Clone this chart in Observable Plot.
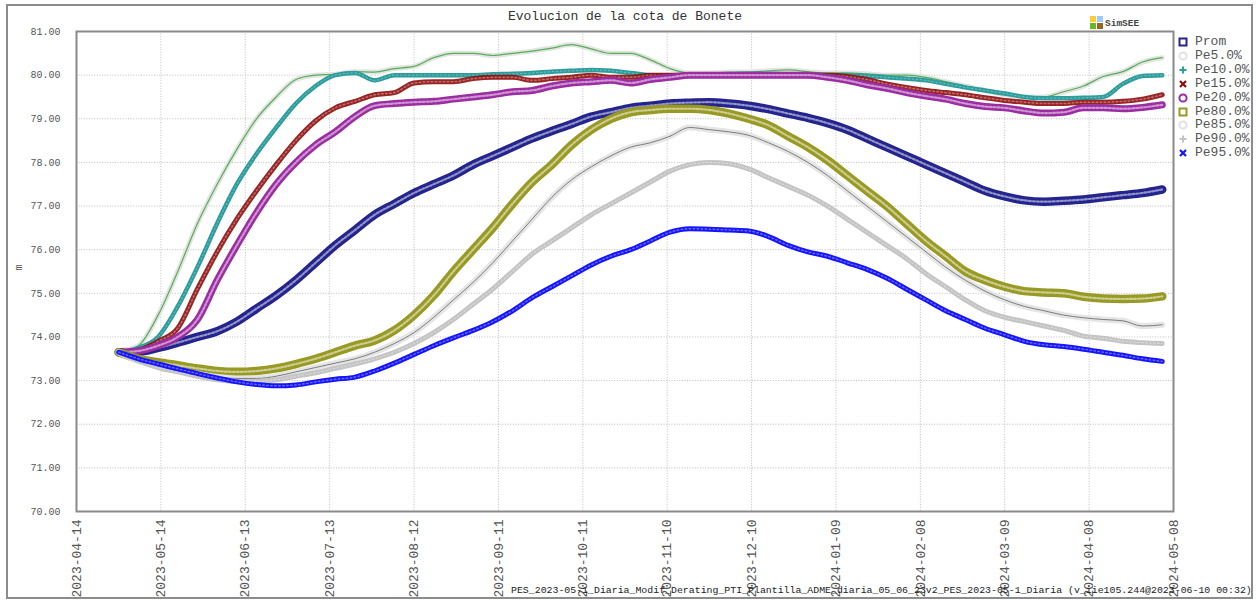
<!DOCTYPE html>
<html>
<head>
<meta charset="utf-8">
<script src="https://cdn.jsdelivr.net/npm/d3@7"></script>
<script src="https://cdn.jsdelivr.net/npm/@observablehq/plot@0.6"></script>
<style>
  body { margin: 0; background: #fff; }
  #wrap { position: relative; width: 1256px; height: 600px; font-family: "Liberation Mono", monospace; overflow: hidden; }
  #chart svg { display: block; }
  #chart svg, #chart svg text { font-family: "Liberation Mono", monospace !important; }
  .border { position: absolute; left: 6px; top: 4px; width: 1247px; height: 595px; border: 2px solid #8c8c8c; box-sizing: border-box; pointer-events: none; }
  .title { position: absolute; left: 0; width: 1250px; top: 9px; text-align: center; font-size: 13px; color: #333; white-space: nowrap; }
  .ylab { position: absolute; left: 16px; top: 262px; font-size: 10px; color: #555; transform: rotate(-90deg); transform-origin: center; }
  .legend { position: absolute; left: 1178px; top: 35px; }
  .legend .row { position: absolute; left: 0; height: 14px; white-space: nowrap; font-size: 13px; color: #555; line-height: 14px; }
  .legend .row svg { position: absolute; left: 0; top: 2px; }
  .legend .row span { position: absolute; left: 17px; top: 0; }
  .logo { position: absolute; left: 1090px; top: 16px; }
  .logo i { position: absolute; width: 6px; height: 6px; }
  .logo b { position: absolute; left: 15px; top: 2px; font-size: 9.5px; font-weight: bold; color: #444; white-space: nowrap; }
  .caption { position: absolute; left: 511px; top: 585px; font-size: 9.9px; color: #222; white-space: nowrap; }
</style>
</head>
<body>
<div id="wrap">
  <div id="chart"></div>
  <div class="border"></div>
  <div class="title">Evolucion de la cota de Bonete</div>
  <div class="ylab">m</div>
  <div class="logo">
    <i style="left:0;top:0;background:#ffcc33"></i>
    <i style="left:7px;top:0;background:#99ccff"></i>
    <i style="left:0;top:7px;background:#66bb22"></i>
    <i style="left:7px;top:7px;background:#996622"></i>
    <b>SimSEE</b>
  </div>
  <div class="legend" id="legend"></div>
  <div class="caption">PES_2023-05-1_Diaria_Modif_Derating_PTI_Plantilla_ADME_diaria_05_06_23v2_PES_2023-05-1_Diaria (v_iie105.244@2023-06-10 00:32)</div>
</div>
<script>
// Weekly readings of the Bonete reservoir level (m), from 2023-04-29.
const firstDay = "2023-04-29";
const stepDays = 7;

const seriesNames = ["Prom", "Pe5.0%", "Pe10.0%", "Pe15.0%", "Pe20.0%", "Pe80.0%", "Pe85.0%", "Pe90.0%", "Pe95.0%"];

const prom = [73.65,73.66,73.75,73.87,74.0,74.13,74.35,74.65,74.95,75.3,75.7,76.1,76.45,76.8,77.05,77.3,77.5,77.7,77.95,78.15,78.35,78.55,78.72,78.88,79.05,79.15,79.25,79.3,79.35,79.37,79.38,79.35,79.3,79.22,79.12,79.02,78.9,78.75,78.55,78.35,78.15,77.95,77.75,77.55,77.35,77.22,77.13,77.1,77.12,77.15,77.2,77.25,77.3,77.38];
const pe5 = [73.65,73.8,74.5,75.5,76.6,77.5,78.3,79.0,79.5,79.9,80.0,80.02,80.08,80.07,80.15,80.2,80.4,80.5,80.5,80.45,80.5,80.55,80.62,80.7,80.6,80.5,80.5,80.35,80.15,80.05,80.05,80.07,80.07,80.1,80.12,80.08,80.05,80.05,80.03,80.0,80.0,79.95,79.85,79.75,79.65,79.55,79.5,79.5,79.62,79.75,79.97,80.08,80.3,80.4];
const pe10 = [73.65,73.75,74.0,74.7,75.6,76.6,77.5,78.2,78.8,79.35,79.75,80.0,80.05,79.88,80.0,80.0,80.0,80.0,80.0,80.02,80.03,80.05,80.08,80.1,80.12,80.1,80.05,80.0,80.0,80.0,80.02,80.02,80.03,80.03,80.02,80.02,80.0,80.0,79.98,79.95,79.92,79.88,79.8,79.72,79.65,79.58,79.5,79.47,79.47,79.48,79.5,79.8,79.98,80.0];
const pe15 = [73.65,73.7,73.9,74.2,75.1,75.95,76.7,77.35,77.95,78.5,78.95,79.25,79.4,79.55,79.6,79.82,79.85,79.85,79.92,79.95,79.95,79.88,79.92,79.95,80.0,79.95,79.95,80.0,80.0,80.0,80.0,80.0,80.0,80.0,80.0,80.0,80.0,79.97,79.9,79.8,79.72,79.65,79.6,79.55,79.48,79.42,79.38,79.35,79.35,79.38,79.38,79.4,79.45,79.55];
const pe20 = [73.65,73.68,73.8,74.0,74.4,75.3,76.1,76.85,77.5,78.0,78.4,78.7,79.05,79.3,79.35,79.38,79.4,79.45,79.5,79.55,79.62,79.65,79.75,79.82,79.85,79.88,79.82,79.9,79.95,80.0,80.0,80.0,80.0,80.0,80.0,80.0,79.95,79.88,79.78,79.7,79.6,79.52,79.45,79.35,79.28,79.25,79.18,79.13,79.15,79.25,79.25,79.23,79.26,79.32];
const pe80 = [73.65,73.5,73.42,73.35,73.28,73.22,73.2,73.22,73.28,73.38,73.5,73.65,73.8,73.92,74.15,74.5,74.95,75.5,76.0,76.5,77.05,77.55,77.95,78.4,78.75,79.0,79.15,79.2,79.23,79.23,79.2,79.12,79.0,78.85,78.6,78.35,78.05,77.7,77.35,77.0,76.6,76.2,75.85,75.5,75.3,75.15,75.05,75.02,75.0,74.92,74.88,74.87,74.88,74.93];
const pe85 = [73.65,73.45,73.35,73.25,73.15,73.08,73.05,73.05,73.1,73.2,73.3,73.4,73.5,73.65,73.85,74.1,74.45,74.85,75.25,75.7,76.2,76.7,77.2,77.6,77.9,78.15,78.35,78.45,78.6,78.8,78.75,78.7,78.62,78.45,78.25,78.0,77.7,77.35,77.0,76.65,76.3,75.95,75.6,75.3,75.05,74.85,74.7,74.6,74.5,74.44,74.4,74.37,74.25,74.28];
const pe90 = [73.65,73.45,73.3,73.2,73.1,73.02,72.98,72.98,73.02,73.1,73.18,73.28,73.38,73.5,73.65,73.85,74.1,74.4,74.75,75.1,75.5,75.9,76.2,76.5,76.8,77.05,77.3,77.55,77.8,77.95,78.0,77.97,77.85,77.65,77.45,77.25,77.0,76.7,76.4,76.1,75.8,75.45,75.15,74.85,74.6,74.45,74.35,74.25,74.15,74.02,73.97,73.9,73.87,73.85];
const pe95 = [73.65,73.5,73.38,73.27,73.16,73.06,72.97,72.91,72.88,72.9,72.97,73.03,73.08,73.22,73.4,73.6,73.8,73.98,74.15,74.35,74.6,74.9,75.15,75.4,75.65,75.85,76.0,76.2,76.4,76.48,76.47,76.45,76.43,76.3,76.1,75.95,75.85,75.7,75.55,75.35,75.1,74.85,74.6,74.4,74.2,74.05,73.9,73.82,73.78,73.72,73.65,73.58,73.5,73.44];

const xTickLabels = ["2023-04-14","2023-05-14","2023-06-13","2023-07-13","2023-08-12","2023-09-11","2023-10-11","2023-11-10","2023-12-10","2024-01-09","2024-02-08","2024-03-09","2024-04-08","2024-05-08"];
const yTicks = [70,71,72,73,74,75,76,77,78,79,80,81];

const parseDay = d3.utcParse("%Y-%m-%d");
const xTicks = xTickLabels.map(parseDay);
const start = parseDay(firstDay);
const valuesBySeries = [prom, pe5, pe10, pe15, pe20, pe80, pe85, pe90, pe95];

const rows = [];
seriesNames.forEach((name, k) => {
  valuesBySeries[k].forEach((v, i) => {
    rows.push({serie: name, fecha: d3.utcDay.offset(start, i * stepDays), cota: v});
  });
});

// Line layers per series: a wide band for the dense markers, plus detail strokes.
const layers = {
  "Prom":    [{stroke: "#24248e", w: 8.5}, {stroke: "#ffffff", w: 2.2, o: 0.5, dash: "2,2"}],
  "Pe5.0%":  [{stroke: "#e3e3e3", w: 5}, {stroke: "#55b055", w: 1.2}],
  "Pe10.0%": [{stroke: "#2c9c9c", w: 4.5}, {stroke: "#ffffff", w: 1, o: 0.35, dash: "1.5,2.5"}],
  "Pe15.0%": [{stroke: "#8e0c0c", w: 5, o: 0.9}, {stroke: "#ffffff", w: 1.5, o: 0.35, dash: "1.5,2.5"}],
  "Pe20.0%": [{stroke: "#9c2ca2", w: 7}, {stroke: "#ffffff", w: 2.2, o: 0.5, dash: "2,2"}],
  "Pe80.0%": [{stroke: "#989a24", w: 8.5}, {stroke: "#ffffff", w: 2.2, o: 0.5, dash: "2,2"}],
  "Pe85.0%": [{stroke: "#e5e5e5", w: 6}, {stroke: "#7c7c7c", w: 1}],
  "Pe90.0%": [{stroke: "#c4c4c4", w: 5}, {stroke: "#ffffff", w: 1.2, o: 0.35, dash: "1.5,2.5"}],
  "Pe95.0%": [{stroke: "#1414ff", w: 5}, {stroke: "#ffffff", w: 1.5, o: 0.35, dash: "1.5,2.5"}]
};

const seriesMarks = [];
for (const name of seriesNames) {
  const data = rows.filter(d => d.serie === name);
  for (const l of layers[name]) {
    seriesMarks.push(Plot.line(data, {
      x: "fecha", y: "cota",
      stroke: l.stroke, strokeWidth: l.w, strokeOpacity: l.o ?? 1,
      strokeDasharray: l.dash, curve: "monotone-x"
    }));
  }
}

const chart = Plot.plot({
  width: 1256,
  height: 600,
  marginLeft: 76,
  marginRight: 83,
  marginTop: 31,
  marginBottom: 89,
  style: {fontFamily: "'Liberation Mono', monospace", background: "#fff", color: "#555"},
  x: {type: "utc", domain: [xTicks[0], xTicks[xTicks.length - 1]]},
  y: {domain: [70, 81]},
  marks: [
    Plot.ruleY(yTicks, {stroke: "#bdbdbd", strokeDasharray: "1,1.6"}),
    Plot.ruleX(xTicks, {stroke: "#bdbdbd", strokeDasharray: "1,1.6"}),
    ...seriesMarks,
    Plot.frame({stroke: "#8a8a8a", strokeWidth: 2}),
    Plot.axisY(yTicks, {tickFormat: d => d.toFixed(2), tickSize: 0, tickPadding: 16, fontSize: 10, fill: "#555", label: null}),
    Plot.axisX(xTicks, {tickFormat: d3.utcFormat("%Y-%m-%d"), tickRotate: -90, tickSize: 0, tickPadding: 8, fontSize: 13, fill: "#555", label: null})
  ]
});
document.getElementById("chart").appendChild(chart);

// Legend
const symbols = {
  "Prom":    {shape: "square", color: "#24248e"},
  "Pe5.0%":  {shape: "circle", color: "#e2e2e2"},
  "Pe10.0%": {shape: "plus", color: "#2c9c9c"},
  "Pe15.0%": {shape: "times", color: "#8e0c0c"},
  "Pe20.0%": {shape: "circle", color: "#9c2ca2"},
  "Pe80.0%": {shape: "square", color: "#989a24"},
  "Pe85.0%": {shape: "circle", color: "#e2e2e2"},
  "Pe90.0%": {shape: "plus", color: "#c4c4c4"},
  "Pe95.0%": {shape: "times", color: "#1414ff"}
};
function symbolSvg(s) {
  const c = s.color;
  let body = "";
  if (s.shape === "square") body = `<rect x="1.5" y="1.5" width="7" height="7" fill="none" stroke="${c}" stroke-width="2"/>`;
  if (s.shape === "circle") body = `<circle cx="5" cy="5" r="3.6" fill="none" stroke="${c}" stroke-width="2"/>`;
  if (s.shape === "plus") body = `<path d="M5 1.5V8.5M1.5 5H8.5" stroke="${c}" stroke-width="2"/>`;
  if (s.shape === "times") body = `<path d="M2 2L8 8M8 2L2 8" stroke="${c}" stroke-width="2.2"/>`;
  return `<svg width="10" height="10" viewBox="0 0 10 10">${body}</svg>`;
}
const legend = document.getElementById("legend");
seriesNames.forEach((name, i) => {
  const row = document.createElement("div");
  row.className = "row";
  row.style.top = (i * 13.9) + "px";
  row.innerHTML = symbolSvg(symbols[name]) + `<span>${name}</span>`;
  legend.appendChild(row);
});
</script>
</body>
</html>
